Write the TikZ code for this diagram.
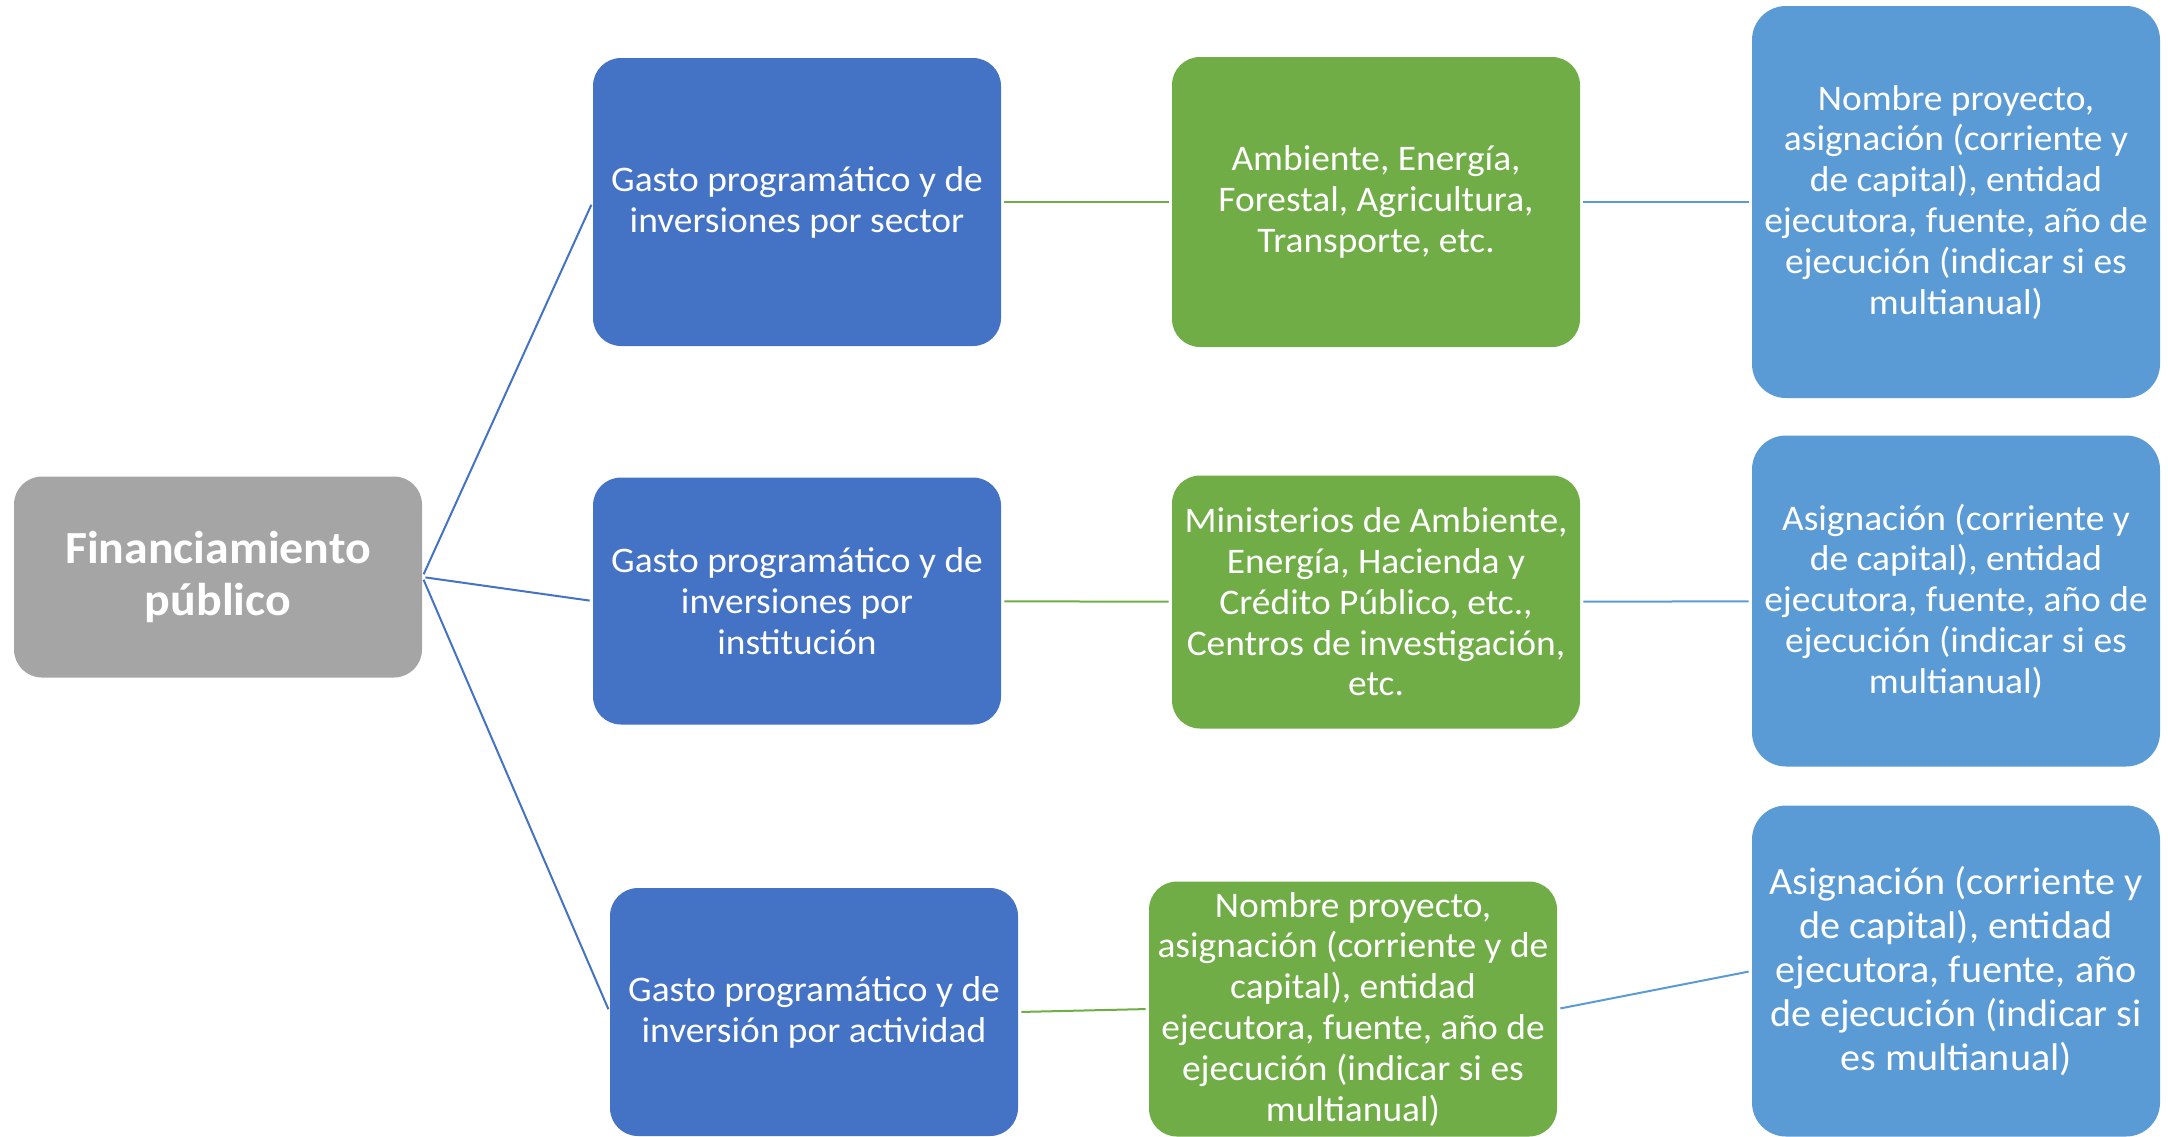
\documentclass[tikz,border=0pt]{standalone}
\usepackage{fontspec}
\setmainfont[FakeStretch=1.04]{Carlito}
\definecolor{grisraiz}{HTML}{A5A5A5}
\definecolor{azul}{HTML}{4472C4}
\definecolor{verde}{HTML}{70AD47}
\definecolor{celeste}{HTML}{5B9BD5}
\begin{document}
\begin{tikzpicture}[x=0.5pt, y=-0.5pt,
    caja/.style={rectangle, rounded corners=14pt, minimum width=204pt, align=center,
        text=white, inner sep=2pt, font=\fontsize{18}{20.4}\selectfont},
    nivelA/.style={caja, fill=azul},
    nivelB/.style={caja, fill=verde},
    nivelC/.style={caja, fill=celeste, rounded corners=17pt},
    enlace/.style={line width=1pt, shorten >=1.5pt, shorten <=1.5pt}]
    \useasboundingbox (0,0) rectangle (2168,1136);
    % raiz
    \node[name=root, caja, fill=grisraiz, minimum height=100.5pt,
        font=\fontsize{23}{26}\selectfont\bfseries] at (218,577) {Financiamiento\\público};
    % primer nivel
    \node[name=sector, nivelA, minimum height=144pt] at (797,202) {Gasto programático y de\\inversiones por sector};
    \node[name=inst, nivelA, minimum height=123.5pt] at (797,601) {Gasto programático y de\\inversiones por\\institución};
    \node[name=activ, nivelA, minimum height=124pt] at (814,1012) {Gasto programático y de\\inversión por actividad};
    % segundo nivel
    \node[name=temas, nivelB, minimum height=145pt] at (1376,202) {Ambiente, Energía,\\Forestal, Agricultura,\\Transporte, etc.};
    \node[name=minis, nivelB, minimum height=126.5pt] at (1376,602) {Ministerios de Ambiente,\\Energía, Hacienda y\\Crédito Público, etc.,\\Centros de investigación,\\etc.};
    \node[name=proy, nivelB, minimum height=127.5pt] at (1353,1009) {Nombre proyecto,\\asignación (corriente y de\\capital), entidad\\ejecutora, fuente, año de\\ejecución (indicar si es\\multianual)};
    % tercer nivel
    \node[name=detA, nivelC, minimum height=196pt] at (1956,202) {Nombre proyecto,\\asignación (corriente y\\de capital), entidad\\ejecutora, fuente, año de\\ejecución (indicar si es\\multianual)};
    \node[name=detB, nivelC, minimum height=165.5pt] at (1956,601) {Asignación (corriente y\\de capital), entidad\\ejecutora, fuente, año de\\ejecución (indicar si es\\multianual)};
    \node[name=detC, nivelC, minimum height=165.5pt, font=\fontsize{19.3}{22}\selectfont] at (1956,971) {Asignación (corriente y\\de capital), entidad\\ejecutora, fuente, año\\de ejecución (indicar si\\es multianual)};
    % conectores
    \draw[enlace, azul] (root.east) -- (sector.west);
    \draw[enlace, azul] (root.east) -- (inst.west);
    \draw[enlace, azul] (root.east) -- (activ.west);
    \draw[enlace, verde] (sector) -- (temas);
    \draw[enlace, verde] (inst) -- (minis);
    \draw[enlace, verde] (activ.east) -- (proy.west);
    \draw[enlace, celeste] (temas) -- (detA);
    \draw[enlace, celeste] (minis) -- (detB);
    \draw[enlace, celeste] (proy.east) -- (detC.west);
\end{tikzpicture}
\end{document}
